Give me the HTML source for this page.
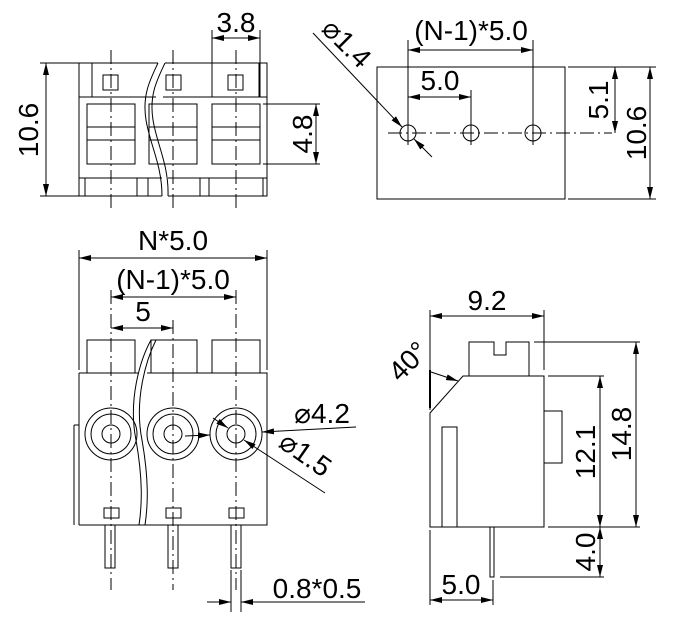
<!DOCTYPE html>
<html><head><style>
html,body{margin:0;padding:0;background:#fff;width:682px;height:620px;overflow:hidden}
svg{display:block}
text{font-family:"Liberation Sans",Arial,sans-serif;fill:#000}
</style></head><body>
<svg width="682" height="620" viewBox="0 0 682 620" xmlns="http://www.w3.org/2000/svg">
<defs>
<marker id="a" viewBox="0 0 12 6" refX="12" refY="3" markerWidth="12" markerHeight="6" orient="auto-start-reverse" markerUnits="userSpaceOnUse"><path d="M0,0 L12,3 L0,6 z" fill="#000"/></marker>
</defs>
<g fill="none" stroke="#000" stroke-width="1">
<!-- TOP LEFT VIEW -->
<path d="M158,63 H79 V196 H162 M168,196 H267 V63 H165"/>
<path d="M79,97 H156 M163,97 H267"/>
<path d="M92,63 V97 M259,63 V97"/>
<path d="M158,63 C150,80 142,95 146,120 C150,145 162,165 162,196"/>
<path d="M165,63 C157,80 149,95 153,120 C157,145 169,165 168,196"/>
<rect x="103" y="75" width="15" height="15"/><rect x="166" y="75" width="15" height="15"/><rect x="228" y="75" width="15" height="15"/>
<rect x="87" y="104" width="48" height="60"/><path d="M87,127 H135 M87,140 H135"/>
<rect x="149" y="104" width="48" height="60"/><path d="M149,127 H197 M149,140 H197"/>
<rect x="212" y="104" width="48" height="60"/><path d="M212,127 H260 M212,140 H260"/>
<path d="M79,178 H162 M168,178 H267 M85,178 V196 M137,178 V196 M148,178 V196 M200,178 V196 M209,178 V196 M263,178 V196"/>
<path stroke-dasharray="14,4,2,4" d="M111,50 V210 M173,50 V210 M236,50 V210"/>
<path d="M40,63 H79 M40,196 H79"/>
<line x1="46" y1="63" x2="46" y2="196" marker-start="url(#a)" marker-end="url(#a)"/>
<path d="M212,30 V97 M260,30 V97"/>
<line x1="212" y1="38" x2="260" y2="38" marker-start="url(#a)" marker-end="url(#a)"/>
<path d="M263,104 H320 M263,164 H320"/>
<line x1="316" y1="104" x2="316" y2="164" marker-start="url(#a)" marker-end="url(#a)"/>

<!-- TOP RIGHT VIEW -->
<rect x="377" y="67" width="188" height="132"/>
<circle cx="408" cy="133" r="8"/><circle cx="471" cy="133" r="8"/><circle cx="533" cy="133" r="8"/>
<path stroke-dasharray="14,4,2,4" d="M388,133 H612"/>
<path d="M408,120 V145 M471,120 V145 M533,120 V145"/>
<path d="M408,40 V125 M533,40 V125 M471,90 V125"/>
<line x1="408" y1="50" x2="533" y2="50" marker-start="url(#a)" marker-end="url(#a)"/>
<line x1="408" y1="97" x2="471" y2="97" marker-start="url(#a)" marker-end="url(#a)"/>
<path d="M568,67 H656 M568,199 H656"/>
<line x1="615" y1="67" x2="615" y2="133" marker-start="url(#a)" marker-end="url(#a)"/>
<line x1="650" y1="67" x2="650" y2="199" marker-start="url(#a)" marker-end="url(#a)"/>
<line x1="313" y1="33" x2="402" y2="127" marker-end="url(#a)"/>
<line x1="432" y1="157" x2="414" y2="139" marker-end="url(#a)"/>

<!-- BOTTOM LEFT VIEW -->
<path d="M79,373 H139 M147,373 H267 V525 H139 M141,525 H79 Z"/>
<path d="M79,373 V525"/>
<path d="M74,425 H79 M74,425 V525"/>
<path d="M87,373 V340 H135 V373 M151,373 V340 H197 V373 M212,373 V340 H260 V373"/>
<path d="M151,340 C140,360 128,400 136,440 C143,480 142,505 139,525"/>
<path d="M156,340 C146,360 134,400 142,440 C149,480 148,505 145,525"/>
<g>
<circle cx="111" cy="434" r="26"/><circle cx="111" cy="434" r="20"/><circle cx="111" cy="434" r="9"/>
<circle cx="173" cy="434" r="26"/><circle cx="173" cy="434" r="20"/><circle cx="173" cy="434" r="9"/>
<circle cx="236" cy="434" r="26"/><circle cx="236" cy="434" r="20"/><circle cx="236" cy="434" r="9"/>
</g>
<rect x="104" y="508" width="15" height="10"/><rect x="166" y="508" width="15" height="10"/><rect x="229" y="508" width="15" height="10"/>
<rect x="105" y="525" width="10" height="43"/><rect x="168" y="525" width="10" height="43"/><rect x="231" y="525" width="10" height="43"/>
<path stroke-dasharray="14,4,2,4" d="M111,290 V590 M173,320 V590 M236,290 V590"/>
<path d="M79,250 V370 M267,250 V370"/>
<line x1="79" y1="258" x2="267" y2="258" marker-start="url(#a)" marker-end="url(#a)"/>
<line x1="111" y1="297" x2="236" y2="297" marker-start="url(#a)" marker-end="url(#a)"/>
<line x1="111" y1="328" x2="173" y2="328" marker-start="url(#a)" marker-end="url(#a)"/>
<path d="M231,570 V612 M241,570 V612"/>
<line x1="207" y1="602" x2="231" y2="602" marker-end="url(#a)"/>
<line x1="365" y1="602" x2="241" y2="602" marker-end="url(#a)"/>
<line x1="185" y1="436" x2="210" y2="435" marker-end="url(#a)"/>
<line x1="356" y1="427" x2="262" y2="432" marker-end="url(#a)"/>
<line x1="213" y1="418" x2="228" y2="428" marker-end="url(#a)"/>
<line x1="325" y1="493" x2="244" y2="440" marker-end="url(#a)"/>

<!-- BOTTOM RIGHT VIEW -->
<path d="M463,376 H544 V527 H430 V413 Z"/>
<path d="M469,376 V342 H494 V355 H506 V342 H529 V376"/>
<path d="M544,411 H562 V463 H544"/>
<path d="M442,527 V427 H457 V527"/>
<path d="M490,527 V577 H494 V527"/>
<path d="M430,310 V410 M544,310 V370"/>
<line x1="430" y1="316" x2="544" y2="316" marker-start="url(#a)" marker-end="url(#a)"/>
<path d="M534,342 H640 M548,376 H604 M548,527 H640 M500,577 H604 M430,530 V605 M493,580 V605"/>
<line x1="636" y1="342" x2="636" y2="527" marker-start="url(#a)" marker-end="url(#a)"/>
<line x1="600" y1="376" x2="600" y2="527" marker-start="url(#a)" marker-end="url(#a)"/>
<line x1="600" y1="527" x2="600" y2="577" marker-start="url(#a)" marker-end="url(#a)"/>
<line x1="430" y1="600" x2="493" y2="600" marker-start="url(#a)" marker-end="url(#a)"/>
<line x1="430" y1="370" x2="430" y2="408" stroke-width="2"/>
<line x1="431" y1="372" x2="458" y2="381" marker-end="url(#a)"/>
</g>

<g font-size="28">
<text x="236" y="32" text-anchor="middle">3.8</text>
<text transform="translate(38,130) rotate(-90)" text-anchor="middle">10.6</text>
<text transform="translate(312,134) rotate(-90)" text-anchor="middle">4.8</text>
<text x="471" y="40" text-anchor="middle">(N-1)*5.0</text>
<text x="440" y="90" text-anchor="middle">5.0</text>
<text transform="translate(608,100) rotate(-90)" text-anchor="middle">5.1</text>
<text transform="translate(646,133) rotate(-90)" text-anchor="middle">10.6</text>
<text transform="translate(340,50) rotate(45)" text-anchor="middle">⌀1.4</text>
<text x="173" y="250" text-anchor="middle">N*5.0</text>
<text x="173" y="289" text-anchor="middle">(N-1)*5.0</text>
<text x="143" y="321" text-anchor="middle">5</text>
<text x="322" y="423" text-anchor="middle">⌀4.2</text>
<text transform="translate(300,462) rotate(35)" text-anchor="middle">⌀1.5</text>
<text x="317" y="598" text-anchor="middle">0.8*0.5</text>
<text x="487" y="310" text-anchor="middle">9.2</text>
<text transform="translate(415,368) rotate(-45)" text-anchor="middle">40°</text>
<text transform="translate(595,452) rotate(-90)" text-anchor="middle">12.1</text>
<text transform="translate(631,434) rotate(-90)" text-anchor="middle">14.8</text>
<text transform="translate(595,552) rotate(-90)" text-anchor="middle">4.0</text>
<text x="461" y="594" text-anchor="middle">5.0</text>
</g>
</svg>
</body></html>
